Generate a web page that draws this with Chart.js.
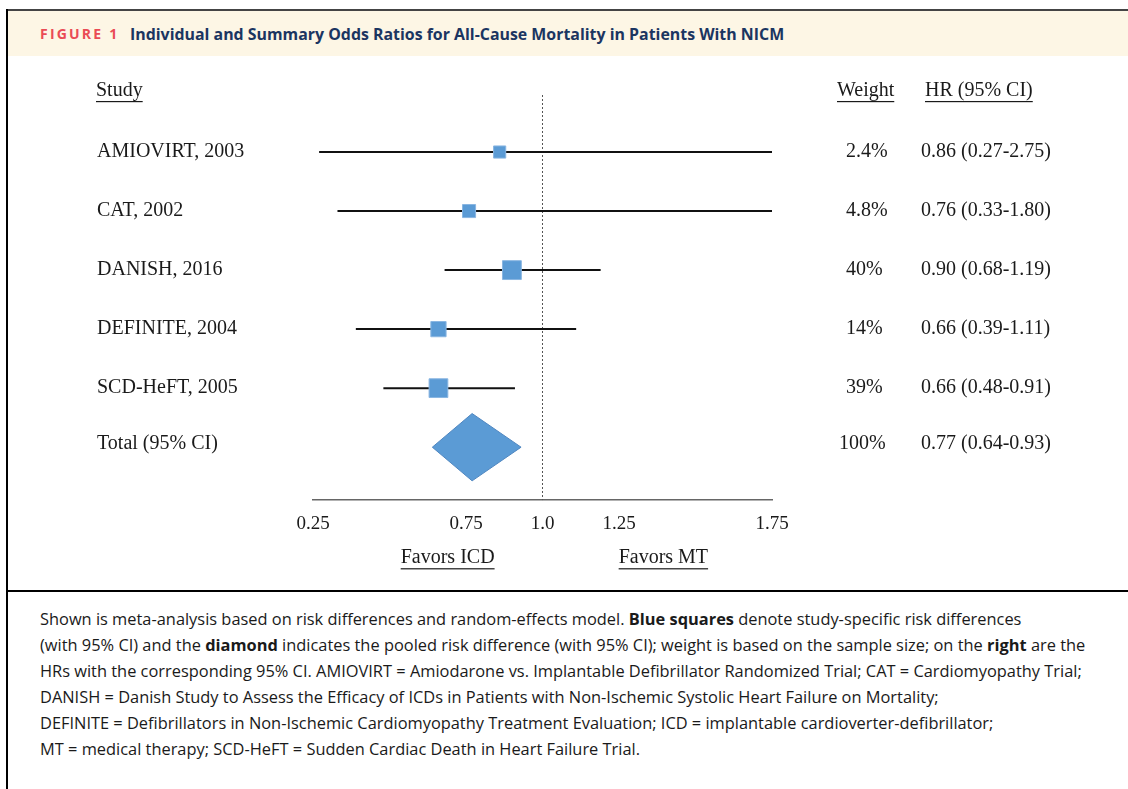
<!DOCTYPE html>
<html>
<head>
<meta charset="utf-8">
<script src="https://cdn.jsdelivr.net/npm/chart.js@4.4.1/dist/chart.umd.min.js"></script>
<style>
  html, body { margin: 0; padding: 0; background: #fff; }
  body { width: 1128px; height: 789px; position: relative; overflow: hidden; font-family: "Open Sans", "Noto Sans", sans-serif; }
  .topline { position: absolute; left: 7px; top: 9px; right: 0; height: 2px; background: #444; }
  .leftline { position: absolute; left: 6px; top: 9px; bottom: 0; width: 2px; background: #000; }
  .header { position: absolute; left: 8px; top: 11px; right: 0; height: 45px; background: #fdf6e5; }
  .fig { position: absolute; left: 40px; top: 24px; font-size: 14px; font-weight: 700; color: #ea4b55; letter-spacing: 2.2px; }
  .title { position: absolute; left: 130px; top: 23px; font-size: 15.9px; font-weight: 700; color: #1b3561; }
  .sep { position: absolute; left: 7px; top: 590px; right: 0; height: 2px; background: #000; }
  .chartbox { position: absolute; left: 8px; top: 57px; width: 1120px; height: 533px; }
  .caption { position: absolute; left: 40px; top: 606px; font-size: 16.4px; line-height: 26px; color: #1a1a1a; white-space: nowrap; }
</style>
</head>
<body>
<div class="header"></div>
<div class="topline"></div>
<div class="leftline"></div>
<div class="fig">FIGURE 1</div>
<div class="title">Individual and Summary Odds Ratios for All-Cause Mortality in Patients With NICM</div>
<div class="chartbox"><canvas id="forest"></canvas></div>
<div class="sep"></div>
<div class="caption">
Shown is meta-analysis based on risk differences and random-effects model. <b>Blue squares</b> denote study-specific risk differences<br>
(with 95% CI) and the <b>diamond</b> indicates the pooled risk difference (with 95% CI); weight is based on the sample size; on the <b>right</b> are the<br>
HRs with the corresponding 95% CI. AMIOVIRT = Amiodarone vs. Implantable Defibrillator Randomized Trial; CAT = Cardiomyopathy Trial;<br>
DANISH = Danish Study to Assess the Efficacy of ICDs in Patients with Non-Ischemic Systolic Heart Failure on Mortality;<br>
DEFINITE = Defibrillators in Non-Ischemic Cardiomyopathy Treatment Evaluation; ICD = implantable cardioverter-defibrillator;<br>
MT = medical therapy; SCD-HeFT = Sudden Cardiac Death in Heart Failure Trial.
</div>

<script>
  // Study data
  const studies = ['AMIOVIRT, 2003', 'CAT, 2002', 'DANISH, 2016', 'DEFINITE, 2004', 'SCD-HeFT, 2005'];
  const hr = [0.86, 0.76, 0.90, 0.66, 0.66];
  const ciLow = [0.27, 0.33, 0.68, 0.39, 0.48];
  const ciHigh = [2.75, 1.80, 1.19, 1.11, 0.91];
  const weights = [2.4, 4.8, 40, 14, 39];

  // Pooled estimate
  const totalLabel = 'Total (95% CI)';
  const totalHr = 0.77;
  const totalLow = 0.64;
  const totalHigh = 0.93;
  const totalWeight = 100;

  // Axis
  const tickValues = [0.25, 0.75, 1.0, 1.25, 1.75];
  const tickLabels = ['0.25', '0.75', '1.0', '1.25', '1.75'];
  const favorsLabels = ['Favors ICD', 'Favors MT'];

  const BLUE = '#5b9bd5';
  const TEXT = '#1a1a1a';
  const SERIF = '"Liberation Serif", "Times New Roman", serif';
  const Y_MIN = 0.034;
  const Y_MAX = 6.898;
  const totalRow = studies.length + 1;

  function fmt(v) { return v.toFixed(2); }
  function weightText(w) { return w + '%'; }

  // Build datasets from the arrays
  const datasets = [];

  // Squares
  datasets.push({
    type: 'scatter',
    data: hr.map((v, i) => ({ x: v, y: i + 1 })),
    pointStyle: 'rect',
    pointRadius: weights.map(w => (10 + Math.sqrt(w) * 1.4) / Math.SQRT2),
    backgroundColor: BLUE,
    borderColor: '#8ab6e2',
    borderWidth: 1,
    order: 0
  });

  // CI lines
  studies.forEach((s, i) => {
    datasets.push({
      type: 'scatter',
      showLine: true,
      data: [{ x: ciLow[i], y: i + 1 }, { x: ciHigh[i], y: i + 1 }],
      borderColor: '#111',
      borderWidth: 2,
      pointRadius: 0,
      order: 1
    });
  });

  // Diamond for pooled estimate
  const halfH = 0.57;
  datasets.push({
    type: 'line',
    data: [
      { x: totalLow, y: totalRow },
      { x: totalHr, y: totalRow - halfH },
      { x: totalHigh, y: totalRow },
      { x: totalHr, y: totalRow + halfH },
      { x: totalLow, y: totalRow }
    ],
    fill: 'shape',
    backgroundColor: BLUE,
    borderColor: '#4f86c0',
    borderWidth: 1,
    pointRadius: 0,
    tension: 0,
    order: 0
  });

  // Line of no effect
  datasets.push({
    type: 'scatter',
    showLine: true,
    data: [{ x: 1, y: Y_MIN }, { x: 1, y: Y_MAX }],
    borderColor: '#555',
    borderWidth: 1,
    borderDash: [2, 2],
    pointRadius: 0,
    order: 2
  });

  // Draws the text columns of the forest plot
  const tablePlugin = {
    id: 'forestTable',
    afterDraw(chart) {
      const ctx = chart.ctx;
      const y = chart.scales.y;
      const x = chart.scales.x;

      function text(str, px, py, underline) {
        ctx.fillText(str, px, py);
        if (underline) {
          const w = ctx.measureText(str).width;
          ctx.fillRect(px, py + 10, w, 1.2);
        }
      }

      ctx.save();
      ctx.font = '20px ' + SERIF;
      ctx.fillStyle = TEXT;
      ctx.textAlign = 'left';
      ctx.textBaseline = 'middle';

      const hy = y.getPixelForValue(0) - 2;
      text('Study', 88, hy, true);
      text('Weight', 829, hy, true);
      text('HR (95% CI)', 917, hy, true);

      studies.forEach((s, i) => {
        const py = y.getPixelForValue(i + 1);
        text(s, 89, py);
        text(weightText(weights[i]), 838, py);
        text(fmt(hr[i]) + ' (' + fmt(ciLow[i]) + '-' + fmt(ciHigh[i]) + ')', 913, py);
      });

      const ty = y.getPixelForValue(totalRow) - 3;
      text(totalLabel, 89, ty);
      text(weightText(totalWeight), 831, ty);
      text(fmt(totalHr) + ' (' + fmt(totalLow) + '-' + fmt(totalHigh) + ')', 913, ty);

      // Favors labels under the axis
      const fy = chart.chartArea.bottom + 58;
      ctx.textAlign = 'center';
      [0.69, 1.395].forEach((v, i) => {
        const px = x.getPixelForValue(v);
        const w = ctx.measureText(favorsLabels[i]).width;
        ctx.fillText(favorsLabels[i], px, fy);
        ctx.fillRect(px - w / 2, fy + 10, w, 1.2);
      });
      ctx.restore();
    }
  };

  new Chart(document.getElementById('forest'), {
    type: 'scatter',
    data: { datasets: datasets },
    plugins: [tablePlugin],
    options: {
      responsive: true,
      maintainAspectRatio: false,
      animation: false,
      layout: { padding: { left: 305, right: 356, top: 38, bottom: 43 } },
      plugins: {
        legend: { display: false },
        tooltip: { enabled: false }
      },
      scales: {
        x: {
          type: 'linear',
          min: 0.25,
          max: 1.75,
          afterBuildTicks: function(scale) {
            scale.ticks = tickValues.map(v => ({ value: v }));
          },
          ticks: {
            autoSkip: false,
            maxRotation: 0,
            padding: 12,
            color: TEXT,
            font: { family: SERIF, size: 19 },
            callback: function(value) {
              const idx = tickValues.indexOf(value);
              return idx >= 0 ? tickLabels[idx] : '';
            }
          },
          grid: { display: true, drawOnChartArea: false, drawTicks: false, color: 'rgba(0,0,0,0)' },
          border: { display: true, color: '#666', width: 1.5 }
        },
        y: {
          type: 'linear',
          display: false,
          reverse: true,
          min: Y_MIN,
          max: Y_MAX
        }
      }
    }
  });
</script>
</body>
</html>
